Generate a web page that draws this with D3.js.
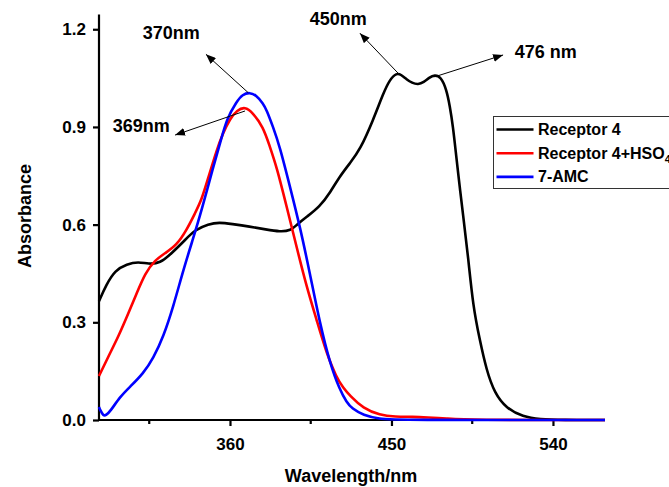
<!DOCTYPE html>
<html>
<head>
<meta charset="utf-8">
<style>
  body { margin: 0; background: #fff; }
  svg { display: block; font-family: "Liberation Sans", Arial, sans-serif; font-weight: bold; }
  .tick text { font-size: 17px; font-weight: bold; fill: #000; }
</style>
<script src="https://cdn.jsdelivr.net/npm/d3@7"></script>
</head>
<body>
<script>
// Receptor 4 (black)
var r4_wl  = [287, 291, 296, 302.5, 309, 314.5, 321, 327.5, 335, 340.5, 348, 354, 361, 371, 380, 388, 394, 397, 403, 410, 416, 421, 427, 432.4, 439.8, 445.4, 449, 452.8, 455.5, 458.4, 461.5, 464.8, 468, 471, 474.1, 477.5, 480.6, 482.5, 484.3, 486, 488, 490, 492.7, 495.5, 499.2, 502.9, 507.5, 514, 523.3, 532.6, 545, 569];
var r4_abs = [0.365, 0.415, 0.46, 0.479, 0.486, 0.479, 0.481, 0.512, 0.553, 0.584, 0.602, 0.607, 0.602, 0.594, 0.585, 0.578, 0.582, 0.599, 0.625, 0.655, 0.70, 0.747, 0.79, 0.829, 0.921, 1.003, 1.045, 1.066, 1.06, 1.046, 1.035, 1.03, 1.037, 1.052, 1.06, 1.054, 1.016, 0.965, 0.901, 0.815, 0.717, 0.625, 0.502, 0.348, 0.246, 0.154, 0.082, 0.036, 0.01, 0.002, 0, 0];

// Receptor 4 + HSO4- (red)
var hso_wl  = [287, 292.2, 297.8, 303.4, 308, 312.7, 318.2, 323.8, 330.3, 335.9, 340.5, 344.2, 348, 352.6, 356, 360, 364, 368.4, 372.5, 378.5, 382, 386, 391.6, 397.1, 402.7, 408.3, 413.8, 419.4, 423, 426.8, 434.2, 443.5, 452, 462, 470, 480.6, 492, 569];
var hso_abs = [0.135, 0.195, 0.256, 0.328, 0.389, 0.451, 0.491, 0.512, 0.537, 0.584, 0.635, 0.676, 0.746, 0.829, 0.88, 0.925, 0.952, 0.962, 0.945, 0.9, 0.843, 0.778, 0.655, 0.532, 0.409, 0.307, 0.205, 0.13, 0.1, 0.075, 0.036, 0.015, 0.01, 0.01, 0.008, 0.005, 0, 0];

// 7-AMC (blue)
var amc_wl  = [287, 287.6, 289.5, 291, 293.2, 298.8, 304.3, 311.7, 317.3, 322.9, 328.4, 334, 339.6, 344, 350.7, 355, 358.2, 363.7, 367, 371, 374.5, 378.5, 380.4, 384, 387.8, 393.4, 399, 404.5, 410.1, 415.7, 421.2, 425, 428, 434.2, 443.5, 452, 569];
var amc_abs = [0.04, 0.031, 0.012, 0.015, 0.026, 0.072, 0.102, 0.143, 0.19, 0.256, 0.348, 0.461, 0.56, 0.64, 0.778, 0.86, 0.925, 0.978, 1.0, 1.006, 0.998, 0.972, 0.952, 0.9, 0.839, 0.717, 0.594, 0.451, 0.297, 0.174, 0.092, 0.055, 0.035, 0.015, 0.003, 0, 0];

var series = [
  {name: "Receptor 4", color: "#000000", wl: r4_wl, abs: r4_abs},
  {name: "Receptor 4+HSO", sub: "4", sup: "\u2212", color: "#ff0000", wl: hso_wl, abs: hso_abs},
  {name: "7-AMC", color: "#0000ff", wl: amc_wl, abs: amc_abs}
];

var xMajor = [360, 450, 540];
var xMinor = [315, 405, 495];
var yTicks = [0, 0.3, 0.6, 0.9, 1.2];

// peak annotations: arrow from peak to tip, label anchor (all in data units)
var notes = [
  {text: "370nm", from: [370.2, 1.005], to: [346.6, 1.123], at: [311.4, 1.169]},
  {text: "369nm", from: [368.4, 0.949], to: [329.4, 0.875], at: [294.7, 0.885]},
  {text: "450nm", from: [453.7, 1.065], to: [432.4, 1.188], at: [404.5, 1.212]},
  {text: "476 nm", from: [474.1, 1.054], to: [512.2, 1.121], at: [518.7, 1.113]}
];

var W = 669, H = 487;
var svg = d3.select("body").append("svg").attr("width", W).attr("height", H);

var x = d3.scaleLinear().domain([287, 569]).range([99, 605]);
var y = d3.scaleLinear().domain([0, 1.245]).range([420, 14.6]);

// axes
var yAxis = svg.append("g")
  .attr("transform", "translate(" + x(287) + ",0)")
  .call(d3.axisLeft(y).tickValues(yTicks).tickFormat(d3.format(".1f")).tickSize(6).tickPadding(7).tickSizeOuter(0));
yAxis.select(".domain").attr("stroke-width", 2.2).attr("d", "M0," + y(0) + "V" + y(1.245));
yAxis.selectAll(".tick line").attr("stroke-width", 2.2);

var xAxis = svg.append("g")
  .attr("transform", "translate(0," + y(0) + ")")
  .call(d3.axisBottom(x).tickValues(xMajor).tickSize(6).tickPadding(12).tickSizeOuter(0));
xAxis.select(".domain").attr("stroke-width", 2.2).attr("d", "M" + x(287) + ",0H" + x(569));
xAxis.selectAll(".tick line").attr("stroke-width", 2.2);

svg.append("g").selectAll("line").data(xMinor).enter().append("line")
  .attr("x1", d => x(d)).attr("x2", d => x(d))
  .attr("y1", y(0)).attr("y2", y(0) + 4)
  .attr("stroke", "#000").attr("stroke-width", 2.2);

// axis titles
svg.append("text").text("Wavelength/nm")
  .attr("x", 351).attr("y", 482)
  .attr("text-anchor", "middle").style("font-size", "18px");
svg.append("text").text("Absorbance")
  .attr("transform", "translate(31,216) rotate(-90)")
  .attr("text-anchor", "middle").style("font-size", "18px");

// curves
var line = d3.line()
  .x(d => x(d[0])).y(d => y(d[1]))
  .curve(d3.curveBasis);

svg.append("g").selectAll("path").data(series).enter().append("path")
  .attr("d", s => line(s.wl.map((w, i) => [w, s.abs[i]])))
  .attr("fill", "none")
  .attr("stroke", s => s.color)
  .attr("stroke-width", 2.6)
  .attr("stroke-linejoin", "round");

// arrows
svg.append("defs").append("marker")
  .attr("id", "head")
  .attr("viewBox", "0 0 10 8")
  .attr("refX", 10).attr("refY", 4)
  .attr("markerWidth", 10).attr("markerHeight", 8)
  .attr("markerUnits", "userSpaceOnUse")
  .attr("orient", "auto")
  .append("path").attr("d", "M0,0L10,4L0,8Z").attr("fill", "#000");

svg.append("g").selectAll("line").data(notes).enter().append("line")
  .attr("x1", d => x(d.from[0])).attr("y1", d => y(d.from[1]))
  .attr("x2", d => x(d.to[0])).attr("y2", d => y(d.to[1]))
  .attr("stroke", "#000").attr("stroke-width", 1)
  .attr("marker-end", "url(#head)");

svg.append("g").selectAll("text").data(notes).enter().append("text")
  .attr("x", d => x(d.at[0])).attr("y", d => y(d.at[1]))
  .style("font-size", "18px")
  .text(d => d.text);

// legend
var lg = svg.append("g").attr("transform", "translate(493.5,116.5)");
lg.append("rect").attr("width", 200).attr("height", 72)
  .attr("fill", "#fff").attr("stroke", "#333").attr("stroke-width", 1);
var item = lg.selectAll("g.item").data(series).enter().append("g")
  .attr("class", "item")
  .attr("transform", (d, i) => "translate(0," + (13 + i * 23.7) + ")");
item.append("line").attr("x1", 3).attr("x2", 40)
  .attr("stroke", d => d.color).attr("stroke-width", 2.6);
var lt = item.append("text").attr("x", 44.5).attr("y", 5.5)
  .style("font-size", "16px");
lt.append("tspan").text(d => d.name);
lt.filter(d => d.sub).append("tspan").attr("dy", 4).style("font-size", "11px").text(d => d.sub);
lt.filter(d => d.sup).append("tspan").attr("dy", -11).style("font-size", "11px").text(d => d.sup);
</script>
</body>
</html>
